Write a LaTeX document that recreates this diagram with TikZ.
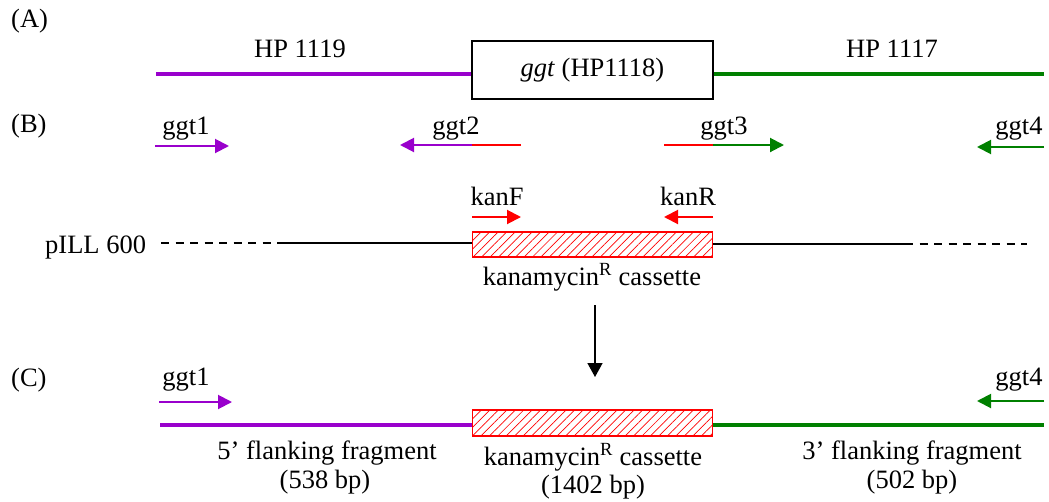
\documentclass[tikz,border=0pt]{standalone}
\usepackage{fontspec}
\setmainfont{Liberation Serif}
\usetikzlibrary{arrows.meta,patterns.meta}
\definecolor{pur}{RGB}{153,0,204}
\definecolor{grn}{RGB}{0,128,0}
\definecolor{rd}{RGB}{255,0,0}
\begin{document}
\begin{tikzpicture}[x=1pt,y=-1pt,
  lbl/.style={font=\fontsize{26.5}{29}\selectfont, inner sep=0pt, anchor=base},
  gene/.style={line width=4pt},
  primer/.style={line width=2pt, -{Triangle[length=14pt,width=14pt]}},
  cassette/.style={draw=rd, line width=1.5pt, minimum width=240pt, inner sep=0pt,
    pattern={Lines[angle=45,distance=6pt,line width=0.7pt]}, pattern color=rd},
  plas/.style={line width=1.5pt}]
\useasboundingbox (0,0) rectangle (1049,501);
% ---------- (A)
\node[lbl, anchor=base west] (labA) at (11,27) {(A)};
\node[draw, line width=2pt, minimum width=241pt, minimum height=58pt, inner sep=0pt, font=\fontsize{26.5}{29}\selectfont] (ggt) at (592.5,70) {\textit{ggt} (HP1118)};
\coordinate (a1) at (156,74);
\coordinate (a2) at (1044,74);
\draw[gene, pur] (a1) -- (a1 -| ggt.west);
\draw[gene, grn] (a2 -| ggt.east) -- (a2);
\node[lbl] (hp19) at (300,57) {HP 1119};
\node[lbl] (hp17) at (892,57) {HP 1117};
% ---------- (B)
\node[lbl, anchor=base west] (labB) at (11,132) {(B)};
\node[lbl] (g1) at (186,134) {ggt1};
\coordinate (g1s) at (155,146); \coordinate (g1e) at (229,146);
\draw[primer, pur] (g1s) -- (g1e);
\node[lbl] (g2) at (456,134) {ggt2};
\coordinate (g2r) at (521,145); \coordinate (g2m) at (472,145); \coordinate (g2e) at (400,145);
\draw[line width=2pt, rd] (g2r) -- (g2m);
\draw[primer, pur] (g2m) -- (g2e);
\node[lbl] (g3) at (724,134) {ggt3};
\coordinate (g3r) at (664,145); \coordinate (g3m) at (713,145); \coordinate (g3e) at (784,145);
\draw[line width=2pt, rd] (g3r) -- (g3m);
\draw[primer, grn] (g3m) -- (g3e);
\node[lbl] (g4) at (1019,134) {ggt4};
\coordinate (g4s) at (1044,147); \coordinate (g4e) at (977,147);
\draw[primer, grn] (g4s) -- (g4e);
% kan primers
\node[lbl] (kF) at (497,205) {kanF};
\coordinate (kFs) at (472,217); \coordinate (kFe) at (521,217);
\draw[primer, rd] (kFs) -- (kFe);
\node[lbl] (kR) at (688,205) {kanR};
\coordinate (kRs) at (713,217); \coordinate (kRe) at (664,217);
\draw[primer, rd] (kRs) -- (kRe);
% plasmid
\node[lbl, anchor=base west] (pill) at (45,253) {pILL 600};
\node[cassette, minimum height=25pt] (cas1) at (592.5,244.5) {};
\coordinate (p1) at (161,243); \coordinate (p2) at (278,243);
\coordinate (p3) at (905,244); \coordinate (p4) at (1027,244);
\draw[plas, dash pattern=on 8pt off 6.5pt] (p1) -- (p2);
\draw[plas] (p2) -- (p2 -| cas1.west);
\draw[plas] (p3 -| cas1.east) -- (p3);
\draw[plas, dash pattern=on 8pt off 6.5pt] (p3) -- (p4);
\node[lbl] (kc1) at (592,285) {kanamycin\textsuperscript{R} cassette};
% arrow down
\coordinate (d1) at (595,305); \coordinate (d2) at (595,377);
\draw[line width=1.5pt, -{Triangle[length=14pt,width=15pt]}] (d1) -- (d2);
% ---------- (C)
\node[lbl, anchor=base west] (labC) at (11,386) {(C)};
\node[lbl] (c1) at (186,385) {ggt1};
\coordinate (c1s) at (159,402); \coordinate (c1e) at (232,402);
\draw[primer, pur] (c1s) -- (c1e);
\node[lbl] (c4) at (1019,385) {ggt4};
\coordinate (c4s) at (1044,401); \coordinate (c4e) at (977,401);
\draw[primer, grn] (c4s) -- (c4e);
\node[cassette, minimum height=26pt] (cas2) at (592.5,423) {};
\coordinate (cl) at (160,425); \coordinate (cr) at (1044,425);
\draw[line width=4.5pt, pur] (cl) -- (cl -| cas2.west);
\draw[line width=4.5pt, grn] (cr -| cas2.east) -- (cr);
\node[lbl] (f5a) at (327,459) {5’ flanking fragment};
\node[lbl] (f5b) at (325,488) {(538 bp)};
\node[lbl] (kc2a) at (593,465) {kanamycin\textsuperscript{R} cassette};
\node[lbl] (kc2b) at (593,493) {(1402 bp)};
\node[lbl] (f3a) at (912,459) {3’ flanking fragment};
\node[lbl] (f3b) at (912,488) {(502 bp)};
\end{tikzpicture}
\end{document}
